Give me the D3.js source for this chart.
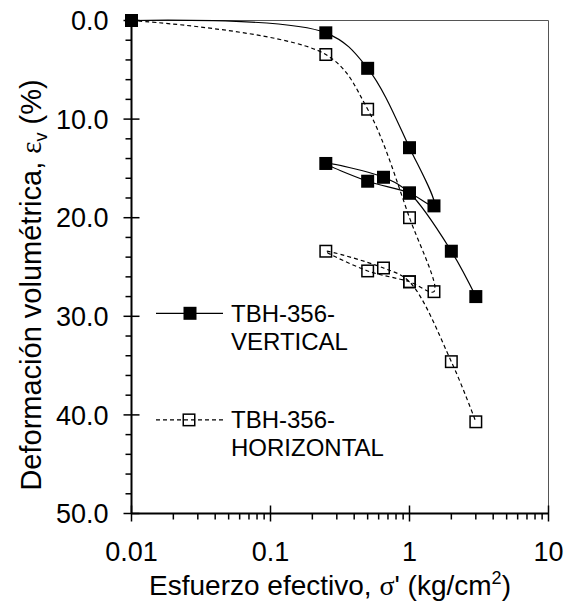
<!DOCTYPE html>
<html>
<head>
<meta charset="utf-8">
<script src="https://cdn.jsdelivr.net/npm/d3@7/dist/d3.min.js"></script>
<style>
  html, body { margin: 0; padding: 0; background: #fff; }
  svg { display: block; font-family: "Liberation Sans", Arial, sans-serif; }
</style>
</head>
<body>
<svg id="chart" width="571" height="604"></svg>
<script>
// ---- data ----
const stress = [0.01, 0.25, 0.5, 1, 1.5, 1, 0.5, 0.25, 0.65, 1, 2, 3];
const strainVertical = [0, 1.25, 4.85, 12.9, 18.8, 17.5, 16.3, 14.5, 15.9, 17.5, 23.4, 28.0];
const strainHorizontal = [0, 3.45, 9.0, 20.0, 27.5, 26.5, 25.4, 23.4, 25.1, 26.5, 34.6, 40.7];
const seriesNames = ["TBH-356-\nVERTICAL", "TBH-356-\nHORIZONTAL"];
const yTicks = [0, 10, 20, 30, 40, 50];
const yTickLabels = ["0.0", "10.0", "20.0", "30.0", "40.0", "50.0"];
const xTicks = [0.01, 0.1, 1, 10];
const xTickLabels = ["0.01", "0.1", "1", "10"];

// ---- layout ----
const L = 131.5, R = 548.5, T = 20.5, B = 513.5;
const svg = d3.select("#chart");
const x = d3.scaleLog().domain([0.01, 10]).range([L, R]);
const y = d3.scaleLinear().domain([0, 50]).range([T, B]);

// frame (top & right)
svg.append("line").attr("x1", L).attr("x2", R).attr("y1", T).attr("y2", T)
  .attr("stroke", "#555").attr("stroke-width", 1);
svg.append("line").attr("x1", R).attr("x2", R).attr("y1", T).attr("y2", B)
  .attr("stroke", "#555").attr("stroke-width", 1);

// minor ticks
const yMinor = d3.range(0, 50, 2).filter(v => v % 10 !== 0);
svg.append("g").selectAll("line").data(yMinor).join("line")
  .attr("x1", L - 6).attr("x2", L).attr("y1", d => y(d)).attr("y2", d => y(d))
  .attr("stroke", "#000").attr("stroke-width", 1.5);
const xMinor = [];
[0.01, 0.1, 1].forEach(dec => { for (let k = 2; k <= 9; k++) xMinor.push(dec * k); });
svg.append("g").selectAll("line").data(xMinor).join("line")
  .attr("x1", d => x(d)).attr("x2", d => x(d)).attr("y1", B).attr("y2", B + 6)
  .attr("stroke", "#000").attr("stroke-width", 1.5);

// major ticks (crossing)
svg.append("g").selectAll("line").data(yTicks).join("line")
  .attr("x1", L - 8).attr("x2", L + 8).attr("y1", d => y(d)).attr("y2", d => y(d))
  .attr("stroke", "#000").attr("stroke-width", 1.5);
svg.append("g").selectAll("line").data(xTicks).join("line")
  .attr("x1", d => x(d)).attr("x2", d => x(d)).attr("y1", B - 8).attr("y2", B + 8)
  .attr("stroke", "#000").attr("stroke-width", 1.5);

// axis lines
svg.append("line").attr("x1", L).attr("x2", L).attr("y1", T).attr("y2", B)
  .attr("stroke", "#000").attr("stroke-width", 2);
svg.append("line").attr("x1", L).attr("x2", R).attr("y1", B).attr("y2", B)
  .attr("stroke", "#000").attr("stroke-width", 2);

// tick labels
svg.append("g").selectAll("text").data(yTicks).join("text")
  .attr("x", L - 23).attr("y", d => y(d)).attr("dy", "0.36em")
  .attr("text-anchor", "end").attr("font-size", 27)
  .text((d, i) => yTickLabels[i]);
svg.append("g").selectAll("text").data(xTicks).join("text")
  .attr("x", d => x(d)).attr("y", B + 38).attr("dy", "0.36em")
  .attr("text-anchor", "middle").attr("font-size", 27)
  .text((d, i) => xTickLabels[i]);

// axis titles
const xt = svg.append("text").attr("x", (L + R) / 2 - 10).attr("y", 595)
  .attr("text-anchor", "middle").attr("font-size", 28);
xt.append("tspan").text("Esfuerzo efectivo, ");
xt.append("tspan").attr("font-family", "'Liberation Serif', serif").text("σ");
xt.append("tspan").text("' (kg/cm");
xt.append("tspan").attr("font-size", 18).attr("dy", -11).text("2");
xt.append("tspan").attr("dy", 11).text(")");

const yt = svg.append("text").attr("transform", `translate(41,285) rotate(-90)`)
  .attr("text-anchor", "middle").attr("font-size", 29);
yt.append("tspan").text("Deformación volumétrica, ");
yt.append("tspan").attr("font-family", "'Liberation Serif', serif").text("ε");
yt.append("tspan").attr("font-size", 18).attr("dy", 6).text("v");
yt.append("tspan").attr("dy", -6).text(" (%)");

// series
const curve = d3.curveCatmullRom.alpha(0.5);
const line = d3.line().x(d => x(d[0])).y(d => y(d[1])).curve(curve);
const vData = stress.map((s, i) => [s, strainVertical[i]]);
const hData = stress.map((s, i) => [s, strainHorizontal[i]]);

svg.append("path").datum(vData).attr("d", line)
  .attr("fill", "none").attr("stroke", "#000").attr("stroke-width", 1.2);
svg.append("path").datum(hData).attr("d", line)
  .attr("fill", "none").attr("stroke", "#000").attr("stroke-width", 1.2)
  .attr("stroke-dasharray", "4,3");

const FS = 13, OS = 11.5;
svg.append("g").selectAll("rect").data(vData).join("rect")
  .attr("x", d => x(d[0]) - FS / 2).attr("y", d => y(d[1]) - FS / 2)
  .attr("width", FS).attr("height", FS).attr("fill", "#000");
svg.append("g").selectAll("rect").data(hData).join("rect")
  .attr("x", d => x(d[0]) - OS / 2).attr("y", d => y(d[1]) - OS / 2)
  .attr("width", OS).attr("height", OS).attr("fill", "none")
  .attr("stroke", "#000").attr("stroke-width", 1.5);

// legend
const legY = [y(30) - 3, y(40) + 5];
const lg = svg.append("g");
lg.append("line").attr("x1", 156).attr("x2", 223).attr("y1", legY[0]).attr("y2", legY[0])
  .attr("stroke", "#000").attr("stroke-width", 1.2);
lg.append("rect").attr("x", 190 - FS / 2).attr("y", legY[0] - FS / 2)
  .attr("width", FS).attr("height", FS).attr("fill", "#000");
lg.append("line").attr("x1", 156).attr("x2", 223).attr("y1", legY[1]).attr("y2", legY[1])
  .attr("stroke", "#000").attr("stroke-width", 1.2).attr("stroke-dasharray", "4,3");
lg.append("rect").attr("x", 189 - OS / 2).attr("y", legY[1] - OS / 2)
  .attr("width", OS).attr("height", OS).attr("fill", "none")
  .attr("stroke", "#000").attr("stroke-width", 1.5);

seriesNames.forEach((name, i) => {
  const t = lg.append("text").attr("x", 231).attr("y", legY[i]).attr("font-size", 24);
  name.split("\n").forEach((part, j) => {
    t.append("tspan").attr("x", 231).attr("dy", j === 0 ? "0.35em" : 28).text(part);
  });
});
</script>
</body>
</html>
